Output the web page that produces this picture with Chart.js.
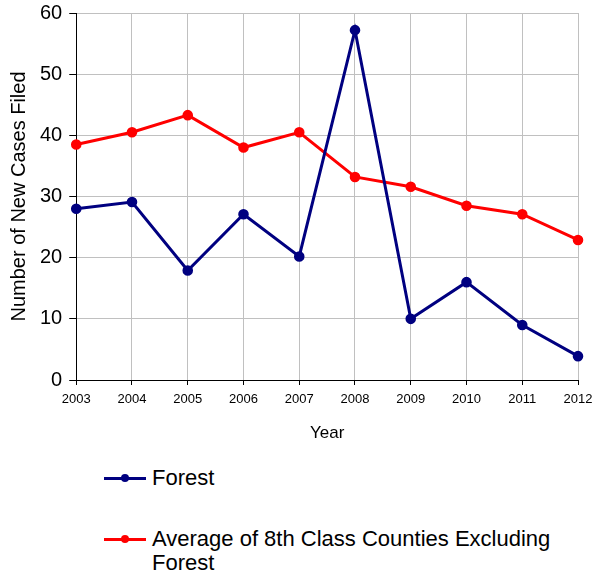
<!DOCTYPE html>
<html>
<head>
<meta charset="utf-8">
<script src="https://cdn.jsdelivr.net/npm/chart.js@4"></script>
<style>
  body { margin: 0; background: #fff; font-family: "Liberation Sans", Arial, sans-serif; }
  #wrap { position: relative; width: 593px; height: 575px; }
  #box { position: absolute; left: 0; top: 0; width: 593px; height: 448px; }
  #legend { position: absolute; left: 104px; top: 466px; width: 480px; }
  .item { display: flex; align-items: flex-start; margin-bottom: 37px; }
  .sw { position: relative; width: 42px; height: 24px; flex: none; margin-right: 6px; }
  .sw .ln { position: absolute; left: 0; right: 0; top: 11px; height: 3px; }
  .sw .pt { position: absolute; left: 17px; top: 8px; width: 8px; height: 8px; border-radius: 50%; }
  .txt { font-size: 22px; line-height: 24px; color: #000; }
</style>
</head>
<body>
<div id="wrap">
  <div id="box"><canvas id="Chart"></canvas></div>
  <div id="legend"></div>
</div>
<script>
// 年
const years = ['2003', '2004', '2005', '2006', '2007', '2008', '2009', '2010', '2011', '2012'];
// Forest
const forest = [28, 29.1, 17.9, 27.1, 20.2, 57.2, 10, 16, 9, 3.9];
// 8th Class平均 (Forest除く)
const average = [38.5, 40.5, 43.3, 38, 40.5, 33.2, 31.6, 28.5, 27.1, 22.9];

const seriesNames = ['Forest', 'Average of 8th Class Counties Excluding Forest'];
const seriesColors = ['#000080', '#ff0000'];

let lineCtx = document.getElementById("Chart");
let lineConfig = {
	type: 'line',
	data: {
		labels: years,
		datasets: [{
			label: seriesNames[0],
			data: forest,
			borderColor: seriesColors[0],
			backgroundColor: seriesColors[0],
			borderWidth: 3,
			pointRadius: 3.8,
			pointHoverRadius: 3.8,
		}, {
			label: seriesNames[1],
			data: average,
			borderColor: seriesColors[1],
			backgroundColor: seriesColors[1],
			borderWidth: 3,
			pointRadius: 3.8,
			pointHoverRadius: 3.8,
		}],
	},
	options: {
		responsive: true,
		maintainAspectRatio: false,
		animation: false,
		layout: { padding: { top: 0, left: 5, right: 0, bottom: 0 } },
		plugins: {
			legend: { display: false },
			tooltip: { enabled: false },
		},
		scales: {
			x: {
				offset: false,
				// 右端の余白を元の図に合わせる
				afterFit: function (scale) { scale.paddingRight = 15; scale.paddingLeft = 0; },
				grid: { color: '#c0c0c0', tickColor: '#000', tickLength: 5 },
				border: { color: '#000', width: 1 },
				ticks: {
					color: '#000', maxRotation: 0, autoSkip: false, padding: 7,
					font: { family: 'Liberation Sans', size: 13 },
				},
				title: {
					display: true, text: 'Year', color: '#000', padding: { top: 9 },
					font: { family: 'Liberation Sans', size: 17 },
				},
			},
			y: {
				min: 0,
				max: 60,
				afterFit: function (scale) { scale.paddingTop = 13; scale.paddingBottom = 0; },
				grid: { color: '#c0c0c0', tickColor: '#000', tickLength: 7 },
				border: { color: '#000', width: 1 },
				ticks: {
					stepSize: 10, color: '#000', padding: 7,
					font: { family: 'Liberation Sans', size: 20 },
				},
				title: {
					display: true, text: 'Number of New Cases Filed', color: '#000', padding: 2,
					font: { family: 'Liberation Sans', size: 20 },
				},
			},
		},
	},
};
let lineChart = new Chart(lineCtx, lineConfig);

// 凡例 (折り返しが必要なのでHTMLで)
const legendBox = document.getElementById('legend');
lineChart.data.datasets.forEach(function (ds) {
	const item = document.createElement('div');
	item.className = 'item';
	item.innerHTML = '<div class="sw"><div class="ln" style="background:' + ds.borderColor + '"></div>' +
		'<div class="pt" style="background:' + ds.borderColor + '"></div></div>' +
		'<div class="txt">' + ds.label + '</div>';
	legendBox.appendChild(item);
});
</script>
</body>
</html>
